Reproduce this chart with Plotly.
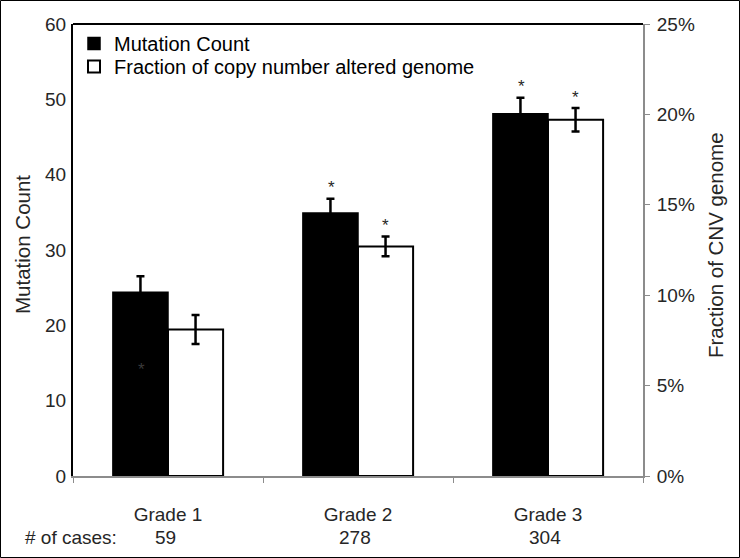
import plotly.graph_objects as go

grades = ["Grade 1", "Grade 2", "Grade 3"]
mutation_count = [24.4, 34.9, 48.1]
mutation_err = [2.1, 1.9, 2.1]
cnv_fraction = [0.081, 0.127, 0.197]
cnv_err = [0.008, 0.0055, 0.0065]
cases = ["59", "278", "304"]
sig_mut = [False, True, True]
sig_cnv = [False, True, True]

W, H = 740, 558
L, R, T, B = 73, 97, 24, 82
pw, ph = W - L - R, H - T - B

FONT = "Liberation Sans, Arial, sans-serif"
TXT = "#262626"
FS = 19
FT = 20.5
FL = 20

fig = go.Figure()
fig.add_trace(go.Bar(
    x=grades, y=mutation_count, name="Mutation Count", offsetgroup="a",
    marker=dict(color="black", line=dict(color="black", width=1.5)),
    error_y=dict(type="data", array=mutation_err, color="black", thickness=2.5, width=4),
    yaxis="y", legend="legend",
))
fig.add_trace(go.Bar(
    x=grades, y=cnv_fraction, name="Fraction of copy number altered genome", offsetgroup="b",
    marker=dict(color="white", line=dict(color="black", width=2)),
    error_y=dict(type="data", array=cnv_err, color="black", thickness=2.5, width=4),
    yaxis="y2", legend="legend2",
))

ann = []
for i, g in enumerate(grades):
    if sig_mut[i]:
        ann.append(dict(x=g, y=mutation_count[i] + mutation_err[i], xref="x", yref="y",
                        text="*", showarrow=False, xshift=-27, yshift=11,
                        font=dict(family=FONT, size=17, color=TXT)))
    if sig_cnv[i]:
        ann.append(dict(x=g, y=cnv_fraction[i] + cnv_err[i], xref="x", yref="y2",
                        text="*", showarrow=False, xshift=27, yshift=11,
                        font=dict(family=FONT, size=17, color=TXT)))
    ann.append(dict(x=g, y=(476 - 537) / ph, xref="x", yref="paper", text=cases[i],
                    showarrow=False, xanchor="center", yanchor="middle", xshift=-3,
                    font=dict(family=FONT, size=FS, color=TXT)))
# faint asterisk inside grade 1 black bar
ann.append(dict(x=grades[0], y=14.7, xref="x", yref="y", text="*", showarrow=False,
                xshift=-27, yshift=-4, font=dict(family=FONT, size=17, color="#3a3a3a")))
ann.append(dict(x=(71 - L) / pw, y=(476 - 537) / ph, xref="paper", yref="paper",
                text="# of cases:", showarrow=False, xanchor="center", yanchor="middle",
                font=dict(family=FONT, size=FS, color=TXT)))
# axis titles
ann.append(dict(x=(22 - L) / pw, y=(476 - 245) / ph, xref="paper", yref="paper",
                text="Mutation Count", textangle=-90, showarrow=False,
                xanchor="center", yanchor="middle",
                font=dict(family=FONT, size=FT, color=TXT)))
ann.append(dict(x=(715 - L) / pw, y=(476 - 245) / ph, xref="paper", yref="paper",
                text="Fraction of CNV genome", textangle=-90, showarrow=False,
                xanchor="center", yanchor="middle",
                font=dict(family=FONT, size=FT, color=TXT)))

shapes = [
    dict(type="line", xref="paper", yref="paper", x0=0, x1=1, y0=1, y1=1,
         line=dict(color="black", width=2)),
    dict(type="rect", xref="paper", yref="paper",
         x0=-(L - 0.5) / pw, x1=(W - L - 0.5) / pw,
         y0=-(B - 0.5) / ph, y1=(H - B - 0.5) / ph,
         line=dict(color="black", width=1)),
]

legend_common = dict(xanchor="left", yanchor="top",
                     font=dict(family=FONT, size=FL, color="black"),
                     bgcolor="rgba(0,0,0,0)", itemwidth=30)

fig.update_layout(
    width=W, height=H,
    margin=dict(l=L, r=R, t=T, b=B, autoexpand=False),
    paper_bgcolor="white", plot_bgcolor="white",
    barmode="group", bargap=0.42, bargroupgap=0,
    font=dict(family=FONT, size=FS, color=TXT),
    showlegend=True,
    legend=dict(x=(74 - L) / pw, y=(476 - 24) / ph, **legend_common),
    legend2=dict(x=(74 - L) / pw, y=(476 - 47) / ph, **legend_common),
    xaxis=dict(type="category", showline=True, linecolor="#8c8c8c", linewidth=2,
               ticks="outside", tickson="boundaries", ticklen=5, tickcolor="#8c8c8c",
               tickwidth=1, showgrid=False, ticklabelstandoff=20, automargin=False,
               tickfont=dict(family=FONT, size=FS, color=TXT)),
    yaxis=dict(range=[0, 60], dtick=10, showline=True, linecolor="black", linewidth=2,
               ticks="", showgrid=False, zeroline=False, automargin=False,
               ticklabelstandoff=1,
               tickfont=dict(family=FONT, size=FS, color=TXT)),
    yaxis2=dict(range=[0, 0.25], dtick=0.05, tickformat=".0%", overlaying="y", side="right",
                showline=True, linecolor="#8c8c8c", linewidth=2, ticks="outside",
                ticklen=5, tickcolor="#8c8c8c", showgrid=False, zeroline=False,
                automargin=False, ticklabelstandoff=3,
                tickfont=dict(family=FONT, size=FS, color=TXT)),
    annotations=ann,
    shapes=shapes,
)

fig.write_html("out.html", config={"displayModeBar": False},
               post_script="document.body.style.margin='0';")
